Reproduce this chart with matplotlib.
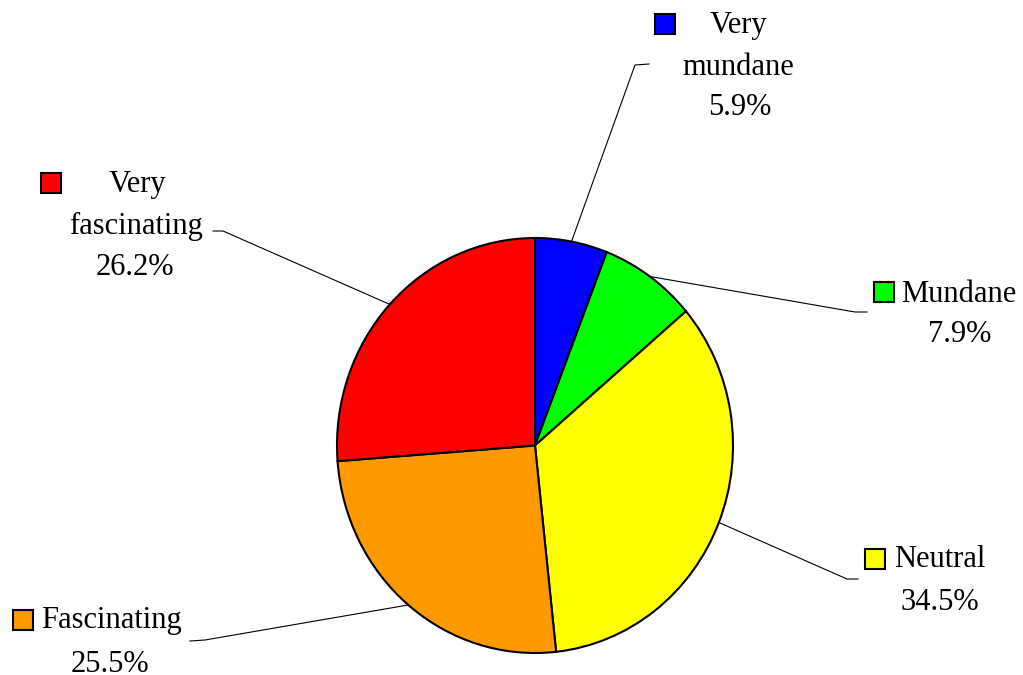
import matplotlib
matplotlib.use("Agg")
import matplotlib.pyplot as plt
from matplotlib.patches import Rectangle
import numpy as np

plt.rcParams['font.family'] = ['Liberation Serif', 'DejaVu Serif']

# survey answers, clockwise from 12 o'clock
categories = ['Very mundane', 'Mundane', 'Neutral', 'Fascinating', 'Very fascinating']
shares = [5.9, 7.9, 34.5, 25.5, 26.2]
colors = ['#0000FF', '#00FF00', '#FFFF00', '#FF9900', '#FF0000']

# label layout in pixels (origin top-left): key box centre, line centres/baselines, leader elbow and end
key_pos = [(665, 24), (884, 292), (875, 559), (23, 620), (51, 183)]
line_x = [[738, 738, 740], [959, 960], [940, 940], [111, 110], [137, 136, 135]]
line_base = [[33, 75, 115], [302, 342], [567, 610], [628, 672], [192, 234, 275]]
leader_elbow = [(635, 65), (855, 312), (847, 579), (205, 640), (223, 231)]
leader_end = [(649, 64), (867, 312), (858, 579), (190, 641), (213, 231)]

W, H = 1023, 675
fig = plt.figure(figsize=(W / 100, H / 100), dpi=100, facecolor='white')

# pie box: x 337..733, y 238..653 (pixels from top)
ax = fig.add_axes([337 / W, (H - 653) / H, 396 / W, 415 / H])
wedges, _ = ax.pie(shares, colors=colors, startangle=90, counterclock=False,
                   wedgeprops=dict(edgecolor='black', linewidth=1.5))
ax.set_aspect('auto')
ax.set_xlim(-1, 1)
ax.set_ylim(-1, 1)
ax.axis('off')

# overlay in pixel coordinates for labels and leader lines
over = fig.add_axes([0, 0, 1, 1], facecolor='none')
over.set_xlim(0, W)
over.set_ylim(H, 0)
over.axis('off')

for i, w in enumerate(wedges):
    mid = np.deg2rad((w.theta1 + w.theta2) / 2)
    p = ax.transData.transform((np.cos(mid), np.sin(mid)))
    sx, sy = over.transData.inverted().transform(p)
    ex, ey = leader_elbow[i]
    tx, ty = leader_end[i]
    over.plot([sx, ex, tx], [sy, ey, ty], color='black', lw=0.8, clip_on=False)

    kx, ky = key_pos[i]
    over.add_patch(Rectangle((kx - 10, ky - 10), 20, 20, facecolor=colors[i],
                             edgecolor='black', linewidth=1.5))

    lines = categories[i].split() + [f"{shares[i]:.1f}%"]
    for txt, x, y in zip(lines, line_x[i], line_base[i]):
        over.text(x, y, txt, ha='center', va='baseline', fontsize=22, color='black')

fig.savefig('out.png', dpi=100, facecolor='white')
